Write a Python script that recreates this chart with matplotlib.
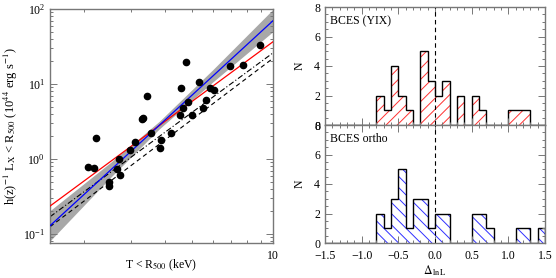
import matplotlib
matplotlib.use("Agg")
import matplotlib.pyplot as plt
import numpy as np
from matplotlib.ticker import LogLocator, NullFormatter, MultipleLocator, FuncFormatter

plt.rcParams["font.family"] = "Liberation Serif"
plt.rcParams["mathtext.fontset"] = "stix"
plt.rcParams["hatch.linewidth"] = 0.7

# cluster data
T_keV = [2.22, 3.42, 3.28, 3.32, 3.55, 4.79, 4.56, 5.35, 5.86, 6.04, 6.95,
         7.78, 8.95, 4.85, 4.65, 4.52, 5.02, 5.67, 5.53, 4.21, 3.10, 2.97,
         2.69, 2.66, 2.71, 2.47, 2.47, 2.07, 2.19, 3.81, 3.87]
Lx = [1.92, 6.9, 3.38, 3.52, 2.2, 19.6, 8.85, 10.6, 8.77, 8.3, 17.4,
      17.7, 32.8, 5.7, 4.74, 3.9, 3.9, 6.12, 4.74, 2.24, 1.69, 1.32,
      0.99, 0.74, 0.607, 0.498, 0.44, 0.775, 0.75, 1.39, 1.79]

# fitted relations, end points
fit_T = [1.5, 10.0]
yix_L = [0.236, 36.6]
ortho_L = [0.129, 69.8]
dashdot_L = [0.17, 26.0]
dashed_L = [0.125, 22.0]

# confidence band around orthogonal fit
band_T = [1.5, 2.5, 3.8, 6.0, 10.0]
band_lo = [0.081, 0.56, 2.52, 10.7, 50.0]
band_hi = [0.205, 0.89, 3.18, 15.6, 99.0]

# residual histograms
bin_edges = np.round(np.arange(-1.5, 1.5001, 0.1), 2)
yix_counts = [0, 0, 0, 0, 0, 0, 0, 2, 1, 4, 2, 1, 0, 5, 3,
              2, 3, 0, 2, 0, 2, 1, 0, 0, 0, 1, 1, 1, 0, 0]
ortho_counts = [0, 0, 0, 0, 0, 0, 0, 2, 1, 3, 5, 1, 3, 3, 1,
                2, 2, 0, 0, 0, 2, 2, 1, 0, 0, 0, 1, 1, 0, 1]

W, H = 556, 278
fig = plt.figure(figsize=(W / 100, H / 100), dpi=100)

def box(x0, y0, x1, y1):
    return [x0 / W, 1 - y1 / H, (x1 - x0) / W, (y1 - y0) / H]

frame = "#777777"

def style(ax):
    for s in ax.spines.values():
        s.set_color(frame)
        s.set_linewidth(1.0)
    ax.tick_params(which="both", direction="in", top=True, right=True,
                   color=frame, labelsize=8.5, width=0.7)
    ax.tick_params(which="major", length=5)
    ax.tick_params(which="minor", length=2.5)

# left panel
ax = fig.add_axes(box(50, 9, 273, 243))
ax.set_xscale("log")
ax.set_yscale("log")
ax.fill_between(band_T, band_lo, band_hi, color="#a8a8a8", lw=0, zorder=1)
ax.plot(fit_T, dashdot_L, color="black", ls=(0, (5, 2, 1, 2)), lw=0.8, zorder=2)
ax.plot(fit_T, dashed_L, color="black", ls=(0, (4, 3)), lw=0.8, zorder=2)
ax.plot(fit_T, yix_L, color="red", lw=0.9, zorder=3)
ax.plot(fit_T, ortho_L, color="blue", lw=0.9, zorder=3)
ax.plot(T_keV, Lx, "o", color="black", ms=4.5, zorder=4)
ax.set_xlim(1.5, 10)
ax.set_ylim(0.076, 100)
ax.xaxis.set_major_locator(LogLocator(base=10))
ax.xaxis.set_major_formatter(FuncFormatter(lambda v, p: "%g" % v))
ax.xaxis.set_minor_locator(LogLocator(base=10, subs=np.arange(2, 10)))
ax.xaxis.set_minor_formatter(NullFormatter())
ax.yaxis.set_minor_locator(LogLocator(base=10, subs=np.arange(2, 10)))
ax.yaxis.set_minor_formatter(NullFormatter())
style(ax)
ax.tick_params(axis="x", pad=5)
fig.text(161 / W, 1 - 265 / H, r"T < R$_{500}$ (keV)", fontsize=8.5,
         ha="center", va="center")
ax.set_ylabel(r"h(z)$^{-1}$ L$_{\rm X}$ < R$_{500}$ (10$^{44}$ erg s$^{-1}$)",
              fontsize=9, labelpad=2)

# right panels
panels = [
    (box(325, 7, 545, 125), yix_counts, "#ff3030", "///", "BCES (YIX)"),
    (box(325, 125, 545, 243), ortho_counts, "#3030ff", "\\\\\\", "BCES ortho"),
]
for i, (rect, counts, col, hatch, label) in enumerate(panels):
    hx = fig.add_axes(rect)
    hx.stairs(counts, bin_edges, fill=True, facecolor="none", edgecolor=col,
              hatch=hatch, lw=0)
    hx.stairs(counts, bin_edges, color="black", lw=1.0)
    hx.axvline(0, color="black", ls=(0, (4, 3)), lw=0.8)
    hx.set_xlim(-1.5, 1.5)
    hx.set_ylim(0, 8)
    hx.xaxis.set_major_locator(MultipleLocator(0.5))
    hx.xaxis.set_minor_locator(MultipleLocator(0.1))
    hx.yaxis.set_major_locator(MultipleLocator(2))
    hx.yaxis.set_minor_locator(MultipleLocator(0.5))
    style(hx)
    hx.text(0.025, 0.93, label, transform=hx.transAxes, fontsize=8.5,
            va="top", ha="left")
    hx.set_ylabel("N", fontsize=8.5, labelpad=6)
    if i == 0:
        hx.tick_params(labelbottom=False)
    else:
        hx.set_xticks([-1.5, -1.0, -0.5, 0.0, 0.5, 1.0, 1.5])
        hx.set_xticklabels(["\u22121.5", "\u22121.0", "\u22120.5", "0.0",
                            "0.5", "1.0", "1.5"])
        hx.tick_params(axis="x", pad=5)
        hx.set_xlabel(r"$\Delta_{\,\rm lnL}$", fontsize=8.5, labelpad=1)

fig.savefig("out.png", dpi=100)
